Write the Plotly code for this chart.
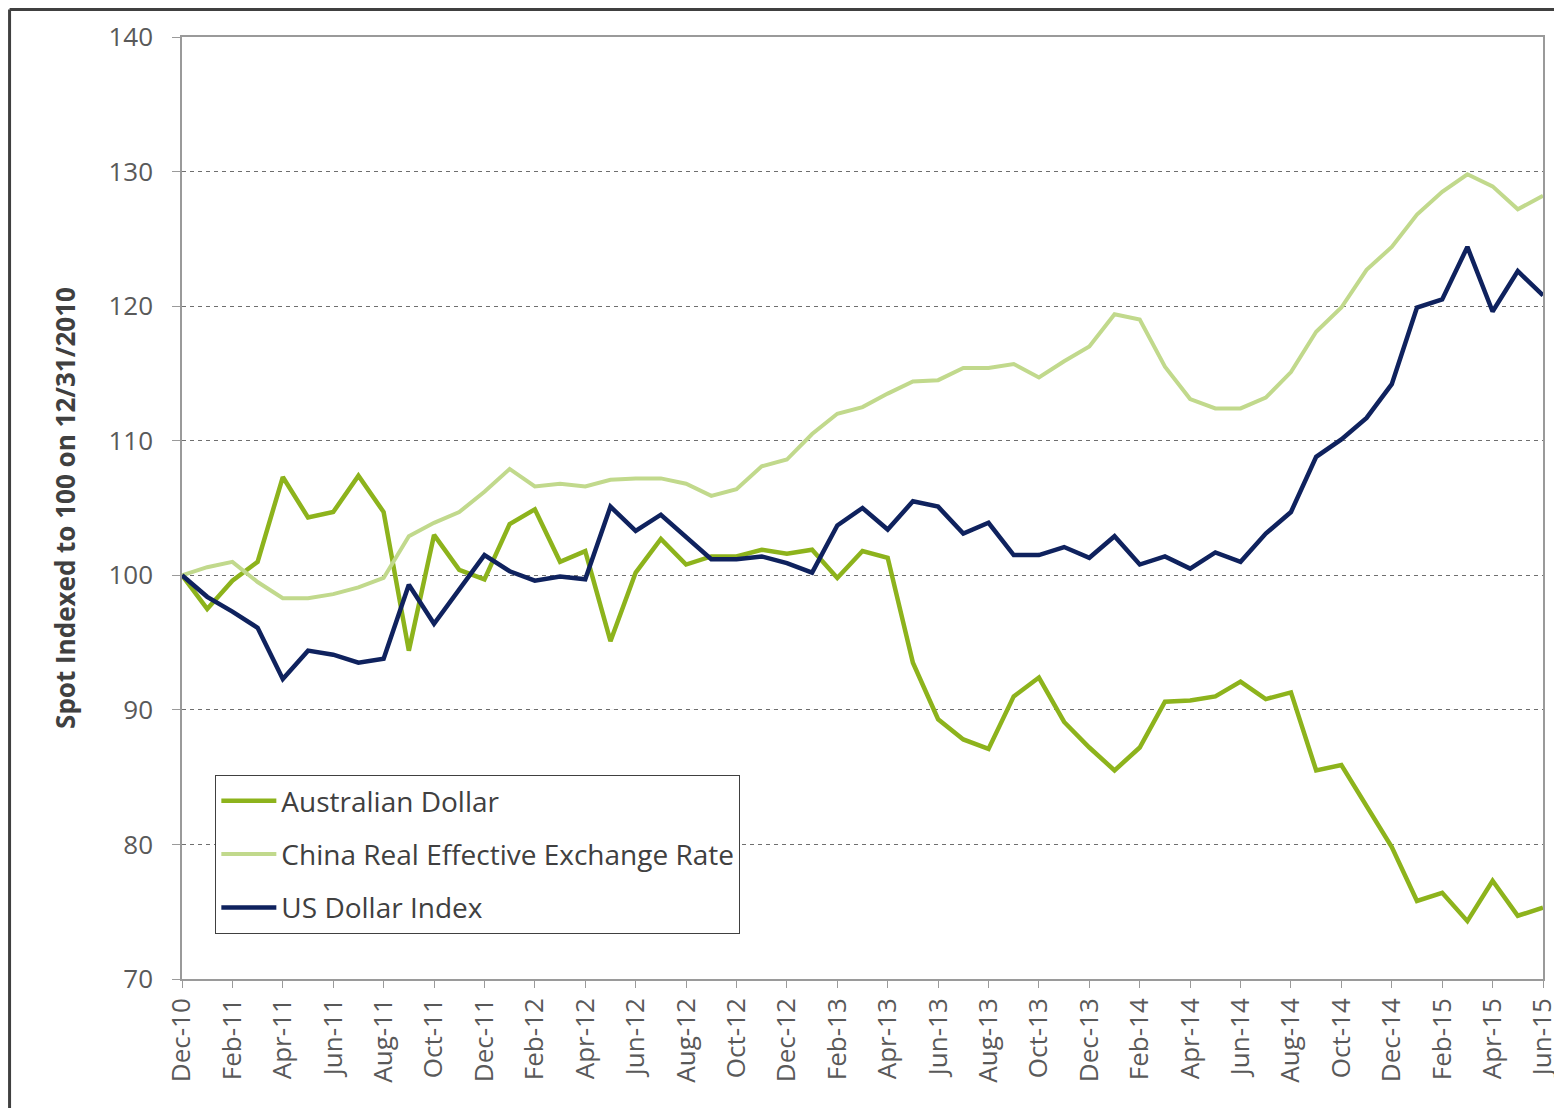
import pandas as pd
import plotly.graph_objects as go

# Month-end labels, Dec-10 .. Jun-15
months = [d.strftime("%b-%y") for d in pd.date_range("2010-12-01", "2015-06-01", freq="MS")]

aud = [100.0, 97.5, 99.6, 101.0, 107.3, 104.3, 104.7, 107.4, 104.7, 94.4,
       103.0, 100.4, 99.7, 103.8, 104.9, 101.0, 101.8, 95.1, 100.2, 102.7,
       100.8, 101.4, 101.4, 101.9, 101.6, 101.9, 99.8, 101.8, 101.3, 93.5,
       89.3, 87.8, 87.1, 91.0, 92.4, 89.1, 87.2, 85.5, 87.2, 90.6,
       90.7, 91.0, 92.1, 90.8, 91.3, 85.5, 85.9, 82.8, 79.8, 75.8,
       76.4, 74.3, 77.3, 74.7, 75.3]

china_reer = [100.0, 100.6, 101.0, 99.5, 98.3, 98.3, 98.6, 99.1, 99.8, 102.9,
              103.9, 104.7, 106.2, 107.9, 106.6, 106.8, 106.6, 107.1, 107.2, 107.2,
              106.8, 105.9, 106.4, 108.1, 108.6, 110.5, 112.0, 112.5, 113.5, 114.4,
              114.5, 115.4, 115.4, 115.7, 114.7, 115.9, 117.0, 119.4, 119.0, 115.5,
              113.1, 112.4, 112.4, 113.2, 115.1, 118.1, 119.9, 122.7, 124.4, 126.8,
              128.5, 129.8, 128.9, 127.2, 128.2]

usd_index = [100.0, 98.4, 97.3, 96.1, 92.3, 94.4, 94.1, 93.5, 93.8, 99.3,
             96.4, 99.0, 101.5, 100.3, 99.6, 99.9, 99.7, 105.1, 103.3, 104.5,
             102.9, 101.2, 101.2, 101.4, 100.9, 100.2, 103.7, 105.0, 103.4, 105.5,
             105.1, 103.1, 103.9, 101.5, 101.5, 102.1, 101.3, 102.9, 100.8, 101.4,
             100.5, 101.7, 101.0, 103.1, 104.7, 108.8, 110.1, 111.7, 114.2, 119.9,
             120.5, 124.4, 119.6, 122.6, 120.8]

series = [
    ("Australian Dollar", aud, "#8db31c", 4.5),
    ("China Real Effective Exchange Rate", china_reer, "#c1d98c", 4),
    ("US Dollar Index", usd_index, "#0f225e", 4.5),
]

font_family = "Open Sans, Noto Sans, sans-serif"

fig = go.Figure()
for name, values, color, width in series:
    fig.add_trace(go.Scatter(
        x=months,
        y=values,
        name=name,
        mode="lines",
        legendgroup=name,
        line=dict(color=color, width=width),
    ))

# the page body adds an 8px margin, so the figure is 8px smaller than the window
fig.update_layout(
    width=1554,
    height=1100,
    margin=dict(l=174, r=19, t=29, b=129, autoexpand=False),
    paper_bgcolor="white",
    plot_bgcolor="white",
    font=dict(family=font_family, color="#595959"),
    showlegend=True,
    legend=dict(
        x=0.0245,
        y=0.2166,
        xanchor="left",
        yanchor="top",
        bgcolor="white",
        bordercolor="#404040",
        borderwidth=1,
        font=dict(size=28, color="#404040", family=font_family),
        tracegroupgap=14,
        itemwidth=55,
    ),
    xaxis=dict(
        type="category",
        range=[0, len(months) - 1],
        tickmode="array",
        tickvals=months[::2],
        ticktext=months[::2],
        tickangle=-90,
        tickfont=dict(size=26, color="#595959"),
        ticks="outside",
        ticklen=7,
        tickcolor="#9a9a9a",
        showgrid=False,
        showline=True,
        linecolor="#9a9a9a",
        linewidth=1.5,
        mirror=True,
    ),
    yaxis=dict(
        range=[70, 140],
        tickvals=[70, 80, 90, 100, 110, 120, 130, 140],
        tickfont=dict(size=26, color="#595959"),
        ticks="outside",
        ticklen=8,
        tickcolor="#9a9a9a",
        ticklabelstandoff=14,
        showgrid=True,
        gridcolor="#6f6f6f",
        griddash="4px,4px",
        gridwidth=1,
        showline=True,
        linecolor="#9a9a9a",
        linewidth=1.5,
        mirror=True,
        zeroline=False,
        title=dict(
            text="<b>Spot Indexed to 100 on 12/31/2010</b>",
            font=dict(size=26, color="#404040"),
            standoff=25,
        ),
    ),
)

# frame edges (top and left only) around the picture
frame = dict(color="#404040", width=3)
fig.add_shape(type="line", xref="paper", yref="paper",
              x0=-0.1267, x1=1.03, y0=1.0292, y1=1.0292, line=frame)
fig.add_shape(type="line", xref="paper", yref="paper",
              x0=-0.1267, x1=-0.1267, y0=-0.16, y1=1.0292, line=frame)

fig.write_html("out.html")
